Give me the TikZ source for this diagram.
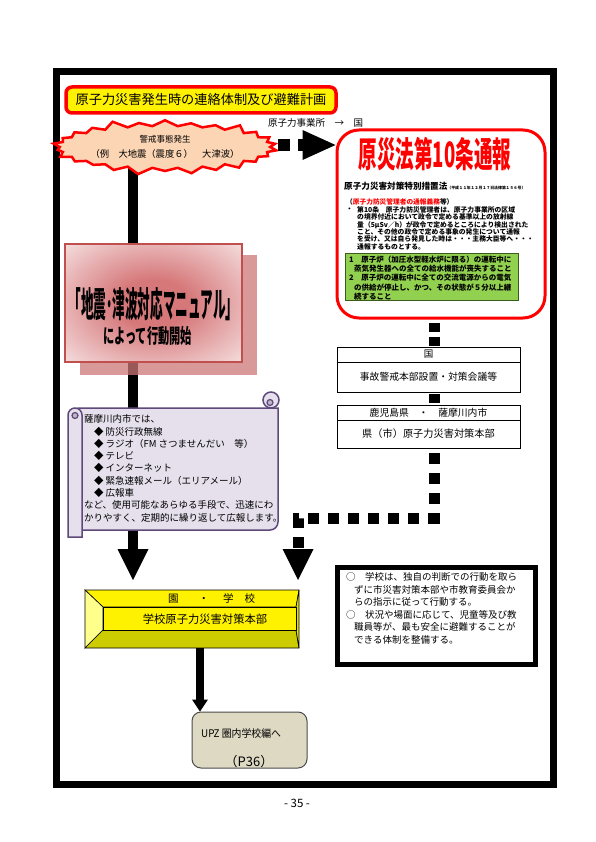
\documentclass[tikz,border=0pt]{standalone}
\usepackage{fontspec}
\setmainfont{Noto Sans CJK JP}
\usetikzlibrary{arrows.meta,shapes.symbols,calc}
\definecolor{peach}{RGB}{252,213,180}
\definecolor{lgreen}{RGB}{146,208,80}
\definecolor{gborder}{RGB}{60,90,30}
\definecolor{manborder}{RGB}{192,80,77}
\definecolor{manshadow}{RGB}{205,120,120}
\definecolor{manpink}{RGB}{214,120,122}
\definecolor{lavender}{RGB}{229,224,236}
\definecolor{scrollborder}{RGB}{95,73,122}
\definecolor{beige}{RGB}{221,217,195}
\definecolor{olivey}{RGB}{204,204,0}
\definecolor{lightyel}{RGB}{255,255,140}
\pgfdeclareradialshading{manshade}{\pgfpoint{0bp}{0bp}}{color(0bp)=(manpink); color(10bp)=(manpink); color(44bp)=(white); color(50bp)=(white)}
\newcommand{\fsz}[1]{\fontsize{#1}{#1}\selectfont}
\begin{document}
\begin{tikzpicture}[x=1pt,y=-1pt,
  plainbox/.style={draw, line width=0.8pt, inner sep=0pt, minimum width=183pt},
  bigarrow/.style={-{Triangle[width=31pt,length=31pt,line width=0pt]}},
  squaredots/.style={line width=11pt, dash pattern=on 11pt off 9pt},
  sc/.style={draw=scrollborder, line width=1.5pt, fill=lavender},
  txt/.style={inner sep=0pt, anchor=west},
  ml/.style={inner sep=0pt, anchor=north west, align=left},
]
\useasboundingbox (0,0) rectangle (595,842);
\fill[white] (0,0) rectangle (595,842);
% frame
\draw[line width=7pt] (56.5,72) rectangle (553.5,784);

% named coordinates
\coordinate (lstart) at (133,150);
\coordinate (ltip) at (133,580);
\coordinate (Rx) at (434,0);
\coordinate (Ux) at (200,0);
\coordinate (rtip) at (298,580);
\coordinate (dotstart) at (278,145);
\coordinate (turnA) at (434,518);
\coordinate (turnB) at (298,518);

% main left thick arrow
\draw[line width=10pt, bigarrow] (lstart) -- (ltip);

% title
\node[draw=red, line width=3.5pt, fill=yellow, rounded corners=6pt, minimum width=270pt, minimum height=26pt, inner sep=0pt, font=\fsz{13.2}] (title) at (201,100) {原子力災害発生時の連絡体制及び避難計画};

\node[txt, font=\fsz{9.5}] (jigyosho) at (268,123) {原子力事業所　→　国};

% starburst
\node[starburst, starburst points=26, starburst point height=8pt, draw=red, line width=2.5pt, fill=peach, minimum width=206pt, minimum height=58pt, inner sep=0pt, align=center, font=\fsz{8.5}] (burst) at (165,147) {警戒事態発生\\[5pt]{\fsz{9.3}（例　大地震（震度６）　大津波）}};

% red box
\node[draw=red, line width=3pt, rounded corners=22pt, minimum width=208pt, minimum height=188pt, inner sep=0pt, fill=white] (gensai) at (441,224) {};
\node[text=red, inner sep=0pt, font=\bfseries\fsz{35}] (art10) at (435,154) {\scalebox{0.53}[1]{原災法第10条通報}};
\node[txt, font=\bfseries\fsz{8.6}] (law) at (344,186) {原子力災害対策特別措置法{\fsz{3.9}（平成１１年１２月１７日法律第１５６号）}};
\node[txt, font=\bfseries\fsz{6.7}] (duty) at (346,202) {（\textcolor{red}{原子力防災管理者の通報義務}等）};
\node[txt, font=\bfseries\fsz{6.8}] (bul) at (346,210) {・};
\node[ml, font=\bfseries\fontsize{6.8}{7.3}\selectfont] (art) at (357,206.5) {第10条　原子力防災管理者は、原子力事業所の区域\\の境界付近において政令で定める基準以上の放射線\\量（5μSv／h）が政令で定めるところにより検出された\\こと、その他の政令で定める事象の発生について通報\\を受け、又は自ら発見した時は・・・主務大臣等へ・・・\\通報するものとする。};
\node[draw=gborder, fill=lgreen, line width=1pt, minimum width=173pt, minimum height=47pt, inner sep=0pt, anchor=north west] (green) at (345,253) {};
\node[ml, font=\bfseries\fontsize{7.5}{9.3}\selectfont] (greentxt) at (349,255.5) {1　原子炉（加圧水型軽水炉に限る）の運転中に\\\hspace*{5pt}蒸気発生器への全ての給水機能が喪失すること\\2　原子炉の運転中に全ての交流電源からの電気\\\hspace*{5pt}の供給が停止し、かつ、その状態が５分以上継\\\hspace*{5pt}続すること};

% dotted arrow to red box
\draw[line width=12pt, dash pattern=on 12pt off 8pt, -{Triangle[width=30pt,length=33pt,line width=0pt]}] (dotstart) -- (dotstart -| gensai.west);

% national / prefecture boxes
\node[plainbox, minimum height=15pt, font=\fsz{9.5}] (kuniH) at (428.5,354.5) {国};
\node[plainbox, minimum height=30pt, font=\fsz{9.8}] (kuniB) at (428.5,377) {事故警戒本部設置・対策会議等};
\node[plainbox, minimum height=15pt, font=\fsz{9.8}] (kagH) at (428.5,412.5) {鹿児島県　・　薩摩川内市};
\node[plainbox, minimum height=28pt, font=\fsz{10.2}] (kagB) at (428.5,434) {県（市）原子力災害対策本部};

\draw[line width=11pt, dash pattern=on 9pt off 5pt, dash phase=11pt] (Rx |- gensai.south) -- (Rx |- kuniH.north);
\draw[line width=11pt, dash pattern=on 9pt off 4pt, dash phase=11pt] (Rx |- kuniB.south) -- (Rx |- kagH.north);
\draw[squaredots, dash phase=15pt, bigarrow] (Rx |- kagB.south) -- (turnA) -- (turnB) -- (rtip);

% manual box
\fill[manshadow, opacity=0.75] (80,255) rectangle (257,375);
\node[draw=manborder, line width=2pt, minimum width=177pt, minimum height=118pt, inner sep=0pt, shading=manshade] (manual) at (153.5,303) {};
\node[inner sep=0pt, font=\bfseries\fsz{35}] (man1) at (153.5,304) {\scalebox{0.36}[1]{「地震･津波対応マニュアル」}};
\node[inner sep=0pt, font=\bfseries\fsz{20}] (man2) at (147.5,336) {\scalebox{0.56}[1]{によって行動開始}};

% scroll
\draw[sc] (78,408) -- (278,408) -- (278,522) arc[start angle=0,end angle=90,radius=8] -- (78,530) -- cycle;
\draw[sc] (271,400) circle (8);
\draw[draw=scrollborder, line width=1.2pt, fill=lavender!70!scrollborder] (270,402.5) circle (3);
\draw[sc] (68,537) -- (68,415) arc[start angle=180,end angle=360,radius=7] -- (82,537) -- cycle;
\draw[draw=scrollborder, line width=1.2pt, fill=lavender!70!scrollborder] (75,415.5) circle (3);
\node[ml, font=\fontsize{9.5}{12.3}\selectfont] (scrolltxt) at (84,414.5) {薩摩川内市では、\\\hspace*{10pt}◆\hspace{2pt}防災行政無線\\\hspace*{10pt}◆\hspace{2pt}ラジオ（FM さつませんだい　等）\\\hspace*{10pt}◆\hspace{2pt}テレビ\\\hspace*{10pt}◆\hspace{2pt}インターネット\\\hspace*{10pt}◆\hspace{2pt}緊急速報メール（エリアメール）\\\hspace*{10pt}◆\hspace{2pt}広報車\\など、使用可能なあらゆる手段で、迅速にわ\\かりやすく、定期的に繰り返して広報します。};

% yellow bevel box
\node[minimum width=214pt, minimum height=58pt, inner sep=0pt] (ybox) at (192,619) {};
\filldraw[fill=yellow, line width=0.6pt] (85,590) -- (299,590) -- (296,607) -- (103,607) -- cycle;
\filldraw[fill=lightyel, line width=0.6pt] (85,590) -- (103,607) -- (103,630) -- (85,648) -- cycle;
\filldraw[fill=olivey, line width=0.6pt] (85,648) -- (103,630) -- (296,630) -- (299,648) -- cycle;
\filldraw[fill=olivey!60!yellow, line width=0.6pt] (299,590) -- (296,607) -- (296,630) -- (299,648) -- cycle;
\filldraw[fill=yellow, line width=0.6pt] (103,607) rectangle (296,630);
\node[txt, font=\fsz{10.5}] (school) at (168,598) {園\hspace{20pt}・\hspace{14pt}学\hspace{11pt}校};
\node[inner sep=0pt, font=\fsz{11.3}] (schoolhq) at (205,619) {学校原子力災害対策本部};

% note box
\node[draw, line width=5pt, minimum width=198pt, minimum height=97pt, inner sep=0pt] (note) at (436.5,616) {};
\node[ml, font=\fontsize{9.5}{12.5}\selectfont] (notetxt) at (346,572.5) {○　学校は、独自の判断での行動を取ら\\\hspace*{8pt}ずに市災害対策本部や市教育委員会か\\\hspace*{8pt}らの指示に従って行動する。\\○　状況や場面に応じて、児童等及び教\\\hspace*{8pt}職員等が、最も安全に避難することが\\\hspace*{8pt}できる体制を整備する。};

% UPZ box
\node[draw=black!70, fill=beige, rounded corners=9pt, line width=1pt, minimum width=115pt, minimum height=56pt, inner sep=0pt] (upz) at (249.5,740) {};
\node[txt, font=\fsz{10.5}] (upz1) at (201,733) {\scalebox{0.94}[1]{UPZ 圏内学校編へ}};
\node[inner sep=0pt, font=\fsz{13}] (upz2) at (249,762) {（P36）};
\draw[line width=8pt, -{Triangle[width=16pt,length=12pt,line width=0pt]}] (Ux |- ybox.south) -- (Ux |- upz.north);

% page number
\node[inner sep=0pt, font=\fsz{11.5}] (page) at (297,803) {- 35 -};
\end{tikzpicture}
\end{document}
